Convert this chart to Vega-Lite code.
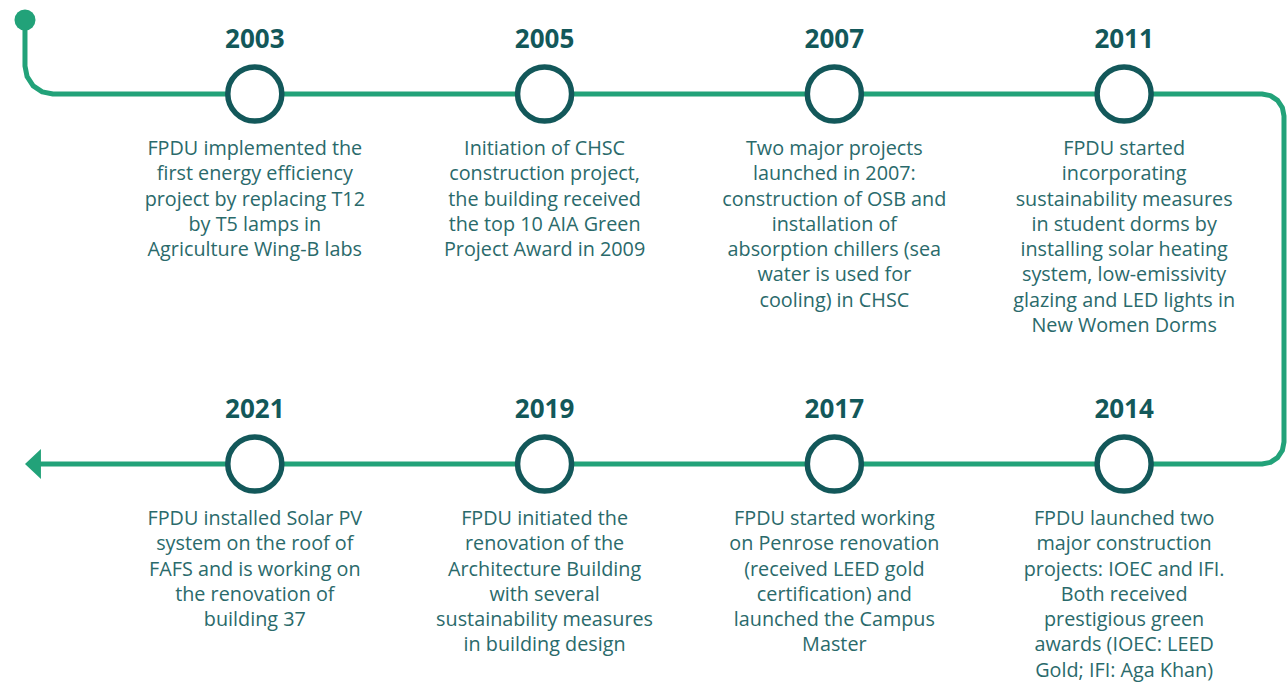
{
  "$schema": "https://vega.github.io/schema/vega-lite/v6.json",
  "width": 1287,
  "height": 683,
  "autosize": {"type": "fit", "contains": "padding"},
  "padding": 0,
  "background": "white",
  "config": {"view": {"stroke": null}},
  "datasets": {
    "path": [
      {"i": 1, "col": -0.7931, "row": -0.2},
      {"i": 2, "col": -0.7931, "row": -0.07568},
      {"i": 3, "col": -0.7857, "row": -0.0467},
      {"i": 4, "col": -0.7648, "row": -0.02216},
      {"i": 5, "col": -0.7335, "row": -0.00576},
      {"i": 6, "col": -0.6966, "row": 0},
      {"i": 7, "col": 3.4759, "row": 0},
      {"i": 8, "col": 3.5049, "row": 0.00451},
      {"i": 9, "col": 3.5295, "row": 0.01741},
      {"i": 10, "col": 3.546, "row": 0.0367},
      {"i": 11, "col": 3.5517, "row": 0.05946},
      {"i": 12, "col": 3.5517, "row": 0.94054},
      {"i": 13, "col": 3.546, "row": 0.9633},
      {"i": 14, "col": 3.5295, "row": 0.98259},
      {"i": 15, "col": 3.5049, "row": 0.99549},
      {"i": 16, "col": 3.4759, "row": 1},
      {"i": 17, "col": -0.7483, "row": 1}
    ],
    "start": [{"col": -0.7931, "row": -0.2}],
    "arrow": [{"col": -0.7655, "row": 1}],
    "events": [
      {"year": "2003", "col": 0, "row": 0, "lines": ["FPDU implemented the", "first energy efficiency", "project by replacing T12", "by T5 lamps in", "Agriculture Wing-B labs"]},
      {"year": "2005", "col": 1, "row": 0, "lines": ["Initiation of CHSC", "construction project,", "the building received", "the top 10 AIA Green", "Project Award in 2009"]},
      {"year": "2007", "col": 2, "row": 0, "lines": ["Two major projects", "launched in 2007:", "construction of OSB and", "installation of", "absorption chillers (sea", "water is used for", "cooling) in CHSC"]},
      {"year": "2011", "col": 3, "row": 0, "lines": ["FPDU started", "incorporating", "sustainability measures", "in student dorms by", "installing solar heating", "system, low-emissivity", "glazing and LED lights in", "New Women Dorms"]},
      {"year": "2021", "col": 0, "row": 1, "lines": ["FPDU installed Solar PV", "system on the roof of", "FAFS and is working on", "the renovation of", "building 37"]},
      {"year": "2019", "col": 1, "row": 1, "lines": ["FPDU initiated the", "renovation of the", "Architecture Building", "with several", "sustainability measures", "in building design"]},
      {"year": "2017", "col": 2, "row": 1, "lines": ["FPDU started working", "on Penrose renovation", "(received LEED gold", "certification) and", "launched the Campus", "Master"]},
      {"year": "2014", "col": 3, "row": 1, "lines": ["FPDU launched two", "major construction", "projects: IOEC and IFI.", "Both received", "prestigious green", "awards (IOEC: LEED", "Gold; IFI: Aga Khan)"]}
    ]
  },
  "encoding": {
    "x": {"field": "col", "type": "quantitative", "axis": null, "scale": {"domain": [-0.87931, 3.558621], "nice": false, "zero": false}},
    "y": {"field": "row", "type": "quantitative", "axis": null, "scale": {"domain": [-0.254054, 1.591892], "nice": false, "zero": false, "reverse": true}}
  },
  "layer": [
    {
      "data": {"name": "path"},
      "mark": {"type": "line", "color": "#22a279", "strokeWidth": 5, "strokeJoin": "round", "strokeCap": "butt", "clip": false},
      "encoding": {"order": {"field": "i", "type": "quantitative"}}
    },
    {
      "data": {"name": "start"},
      "mark": {"type": "point", "filled": true, "color": "#22a279", "opacity": 1, "size": 441}
    },
    {
      "data": {"name": "arrow"},
      "mark": {"type": "point", "filled": true, "color": "#22a279", "opacity": 1, "size": 900, "shape": "M-0.53,0L0.53,-1L0.53,1Z"}
    },
    {
      "data": {"name": "events"},
      "mark": {"type": "point", "filled": false, "fill": "white", "fillOpacity": 1, "stroke": "#13585a", "strokeWidth": 5.5, "opacity": 1, "size": 2916}
    },
    {
      "data": {"name": "events"},
      "mark": {"type": "text", "dy": -54, "fontSize": 26, "fontWeight": "bold", "font": "Open Sans", "color": "#13585a", "baseline": "middle", "align": "center"},
      "encoding": {"text": {"field": "year"}}
    },
    {
      "data": {"name": "events"},
      "mark": {"type": "text", "dy": 45, "fontSize": 19.8, "font": "Open Sans", "color": "#2a6a6b", "baseline": "top", "align": "center", "lineHeight": 25.3},
      "encoding": {"text": {"field": "lines"}}
    }
  ]
}
